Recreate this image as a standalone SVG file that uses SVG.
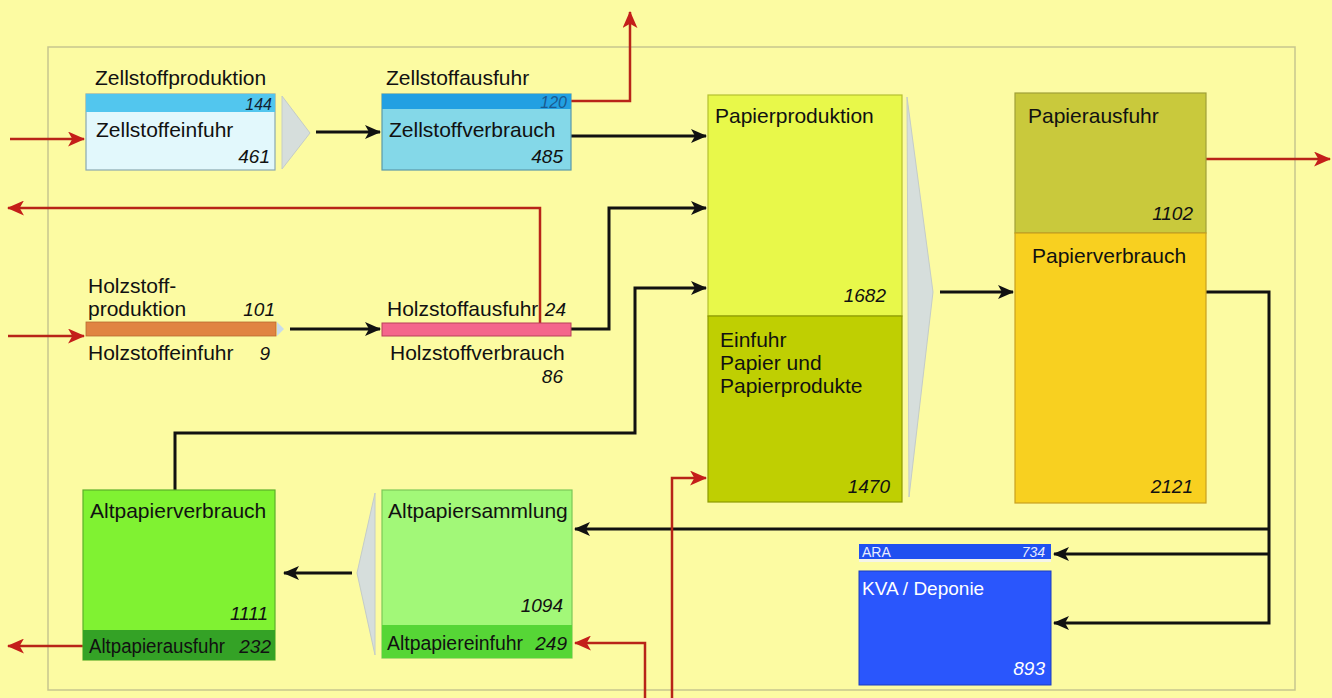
<svg xmlns="http://www.w3.org/2000/svg" width="1332" height="698" viewBox="0 0 1332 698">
<defs>
<style>
.t{font-family:"Liberation Sans",Arial,sans-serif;font-size:21px;fill:#111}
.t2{font-family:"Liberation Sans",Arial,sans-serif;font-size:20px;fill:#111}
.n{font-family:"Liberation Sans",Arial,sans-serif;font-size:19px;font-style:italic;fill:#111;text-anchor:end}
.s{font-family:"Liberation Sans",Arial,sans-serif;font-size:16px;font-style:italic;text-anchor:end}
.w{fill:#fff}
.bk{fill:none;stroke:#111;stroke-width:3;marker-end:url(#ab)}
.rd{fill:none;stroke:#b82418;stroke-width:2.5;marker-end:url(#ar)}
.tri{fill:#d6dedc;stroke:#c4ccc8;stroke-width:1}
.bx{stroke-width:1.2}
</style>
<marker id="ab" viewBox="0 0 16 14" refX="15" refY="7" markerWidth="16" markerHeight="14" orient="auto" markerUnits="userSpaceOnUse">
<path d="M0,0 L16,7 L0,14 L4,7 z" fill="#111"/>
</marker>
<marker id="ar" viewBox="0 0 16 14" refX="15" refY="7" markerWidth="17" markerHeight="15" orient="auto" markerUnits="userSpaceOnUse">
<path d="M0,0 L16,7 L0,14 L4,7 z" fill="#c41e1a"/>
</marker>
</defs>
<rect x="0" y="0" width="1332" height="698" fill="#fcfba2"/>
<rect id="frame" x="48" y="47" width="1247" height="643" fill="none" stroke="#c6c68e" stroke-width="1.5"/>

<g id="connectors">
<path class="bk" d="M316,132 H380"/>
<path class="bk" d="M571,136 H706"/>
<path class="bk" d="M571,329 H609 V208 H706"/>
<path class="bk" d="M175,490 V433 H635 V288 H706"/>
<path class="bk" d="M290,329 H380"/>
<path class="bk" d="M940,292 H1013"/>
<path class="bk" d="M1206,292 H1269 V623 H1054"/>
<path class="bk" d="M1269,529 H575"/>
<path class="bk" d="M1269,554 H1054"/>
<path class="bk" d="M352,573 H284"/>
<path class="rd" d="M10,139 H84"/>
<path class="rd" d="M571,101 H630 V12"/>
<path class="rd" d="M540,325 V208 H8"/>
<path class="rd" d="M8,336 H84"/>
<path class="rd" d="M1206,159 H1330"/>
<path class="rd" d="M83,646 H8"/>
<path class="rd" d="M645,698 V643 H575"/>
<path class="rd" d="M672,698 V478 H706"/>
</g>

<g id="zellstoffproduktion">
<rect class="bx" x="86" y="94" width="189" height="76" fill="#e2f8fc" stroke="#8aa8b0"/>
<rect x="86" y="94" width="189" height="18" fill="#52c6ee"/>
<text class="t" x="95" y="85">Zellstoffproduktion</text>
<text class="s" x="272" y="110" fill="#123">144</text>
<text class="t" x="96" y="137">Zellstoffeinfuhr</text>
<text class="n" x="270" y="163">461</text>
<polygon class="tri" points="282,96 310,133 282,169"/>
</g>

<g id="zellstoffverbrauch">
<rect class="bx" x="382" y="94" width="189" height="76" fill="#84d8e8" stroke="#5a9aa8"/>
<rect x="382" y="94" width="189" height="15" fill="#22a0e2"/>
<text class="t" x="386" y="85">Zellstoffausfuhr</text>
<text class="s" x="567" y="108" fill="#1a5a90">120</text>
<text class="t" x="389" y="137">Zellstoffverbrauch</text>
<text class="n" x="563" y="163">485</text>
</g>

<g id="holzstoffproduktion">
<rect x="86" y="322" width="190" height="14" fill="#e08442" stroke="#b86a30" stroke-width="0.8"/>
<text class="t" x="88" y="293">Holzstoff-</text>
<text class="t" x="88" y="316">produktion</text>
<text class="n" x="275" y="316">101</text>
<text class="t" x="88" y="360">Holzstoffeinfuhr</text>
<text class="n" x="270" y="360">9</text>
<polygon points="277,322 284,329 277,336" fill="#c8dcec"/>
</g>

<g id="holzstoffverbrauch">
<rect x="382" y="323" width="189" height="13" fill="#f4668c" stroke="#b8405a" stroke-width="1"/>
<text class="t" x="387" y="316">Holzstoffausfuhr</text>
<text class="n" x="566" y="316">24</text>
<text class="t" x="390" y="360">Holzstoffverbrauch</text>
<text class="n" x="563" y="383">86</text>
</g>

<g id="papierproduktion">
<rect class="bx" x="708" y="95" width="194" height="221" fill="#e8f84a" stroke="#b4c030"/>
<text class="t" x="715" y="123">Papierproduktion</text>
<text class="n" x="886" y="302">1682</text>
</g>

<g id="einfuhrpapier">
<rect class="bx" x="708" y="316" width="194" height="186" fill="#bfcf02" stroke="#8c9a00"/>
<text class="t" x="720" y="347">Einfuhr</text>
<text class="t" x="720" y="370">Papier und</text>
<text class="t" x="720" y="393">Papierprodukte</text>
<text class="n" x="890" y="493">1470</text>
<polygon class="tri" points="907,97 933,292 909,497"/>
</g>

<g id="papierausfuhr">
<rect class="bx" x="1015" y="93" width="191" height="140" fill="#c9c93c" stroke="#a0a038"/>
<text class="t" x="1028" y="123">Papierausfuhr</text>
<text class="n" x="1193" y="220">1102</text>
</g>

<g id="papierverbrauch">
<rect class="bx" x="1015" y="233" width="191" height="270" fill="#f8d020" stroke="#c8a020"/>
<text class="t" x="1032" y="263">Papierverbrauch</text>
<text class="n" x="1193" y="493">2121</text>
</g>

<g id="altpapierverbrauch">
<rect class="bx" x="83" y="490" width="192" height="170" fill="#80f232" stroke="#5cb028"/>
<rect x="83" y="630" width="192" height="30" fill="#34a226"/>
<text class="t" x="90" y="518">Altpapierverbrauch</text>
<text class="n" x="268" y="620">1111</text>
<text class="t2" x="89" y="653" textLength="136" lengthAdjust="spacingAndGlyphs">Altpapierausfuhr</text>
<text class="n" x="271" y="653">232</text>
</g>

<g id="altpapiersammlung">
<rect class="bx" x="382" y="490" width="190" height="168" fill="#a2f878" stroke="#7cc858"/>
<rect x="382" y="625" width="190" height="33" fill="#56d636"/>
<text class="t" x="388" y="518">Altpapiersammlung</text>
<text class="n" x="563" y="612">1094</text>
<text class="t2" x="387" y="650" textLength="136" lengthAdjust="spacingAndGlyphs">Altpapiereinfuhr</text>
<text class="n" x="567" y="650">249</text>
<polygon class="tri" points="375,493 357,573 375,655"/>
</g>

<g id="ara">
<rect x="859" y="544" width="192" height="15" fill="#2050f0"/>
<rect x="859" y="559" width="192" height="3" fill="#f4f4e8"/>
<text x="862" y="557" font-family="'Liberation Sans',Arial,sans-serif" font-size="14" fill="#e8ecff">ARA</text>
<text class="s" x="1045" y="557" fill="#e8ecff" style="font-size:14px">734</text>
</g>

<g id="kva">
<rect x="859" y="571" width="192" height="114" fill="#2a56fc" stroke="#1a3cc0" stroke-width="1"/>
<text x="862" y="595" font-family="'Liberation Sans',Arial,sans-serif" font-size="19" fill="#fff">KVA / Deponie</text>
<text class="n w" x="1045" y="675">893</text>
</g>
</svg>
